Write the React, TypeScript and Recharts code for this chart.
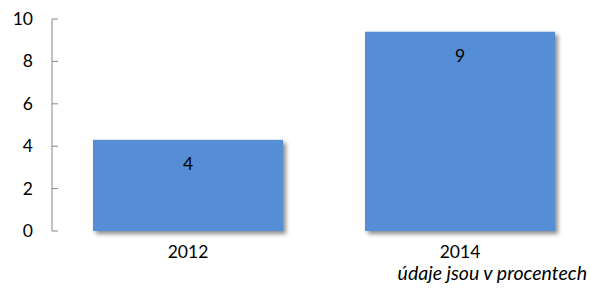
import { Bar, BarChart, LabelList, XAxis, YAxis } from 'recharts';

const years = ['2012', '2014'];
const shares = [4.3, 9.4];
const yTicks = [0, 2, 4, 6, 8, 10];
const note = 'údaje jsou v procentech';

const data = years.map((year, i) => ({ year, value: shares[i] }));

const FONT = 'Lato, "Open Sans", sans-serif';
const AXIS = '#868686';
const BAR = '#558ed5';

function YTick(props: any) {
  const { x, y, payload } = props;
  return (
    <g>
      <line x1={x + 19} x2={x + 25} y1={y} y2={y} stroke={AXIS} strokeWidth={1} />
      <text x={x} y={y} dy={6} textAnchor="end" fill="#000" fontSize={17.5} fontFamily={FONT}>
        {payload.value}
      </text>
    </g>
  );
}

function ShadowBar(props: any) {
  const { x, y, width, height } = props;
  return (
    <rect
      x={x}
      y={y}
      width={width}
      height={height}
      fill={BAR}
      style={{ filter: 'drop-shadow(3px 3px 2px rgba(0,0,0,0.45))' }}
    />
  );
}

export default function App() {
  return (
    <div
      style={{
        position: 'absolute',
        left: 0,
        top: 0,
        width: 591,
        height: 288,
        overflow: 'hidden',
        background: '#fff',
      }}
    >
      <BarChart width={600} height={288} data={data} margin={{ top: 19, right: 4, left: 0, bottom: 0 }}>
        <YAxis
          domain={[0, 10]}
          ticks={yTicks}
          width={52}
          axisLine={{ stroke: AXIS }}
          tickLine={false}
          tickSize={0}
          tickMargin={19}
          tick={<YTick />}
        />
        <XAxis
          dataKey="year"
          height={57}
          axisLine={false}
          tickLine={false}
          tickSize={0}
          tickMargin={15}
          tick={{ fill: '#000', fontSize: 17.5, fontFamily: FONT }}
        />
        <Bar dataKey="value" barSize={190} shape={<ShadowBar />} isAnimationActive={false}>
          <LabelList
            dataKey="value"
            position="insideTop"
            offset={18}
            formatter={(v: any) => Math.round(Number(v))}
            fill="#000"
            fontSize={17.5}
            fontFamily={FONT}
          />
        </Bar>
      </BarChart>
      <div
        style={{
          position: 'absolute',
          right: 4,
          top: 262,
          fontFamily: FONT,
          fontStyle: 'italic',
          fontSize: 19.5,
          lineHeight: '22px',
          color: '#000',
          whiteSpace: 'nowrap',
        }}
      >
        {note}
      </div>
    </div>
  );
}
